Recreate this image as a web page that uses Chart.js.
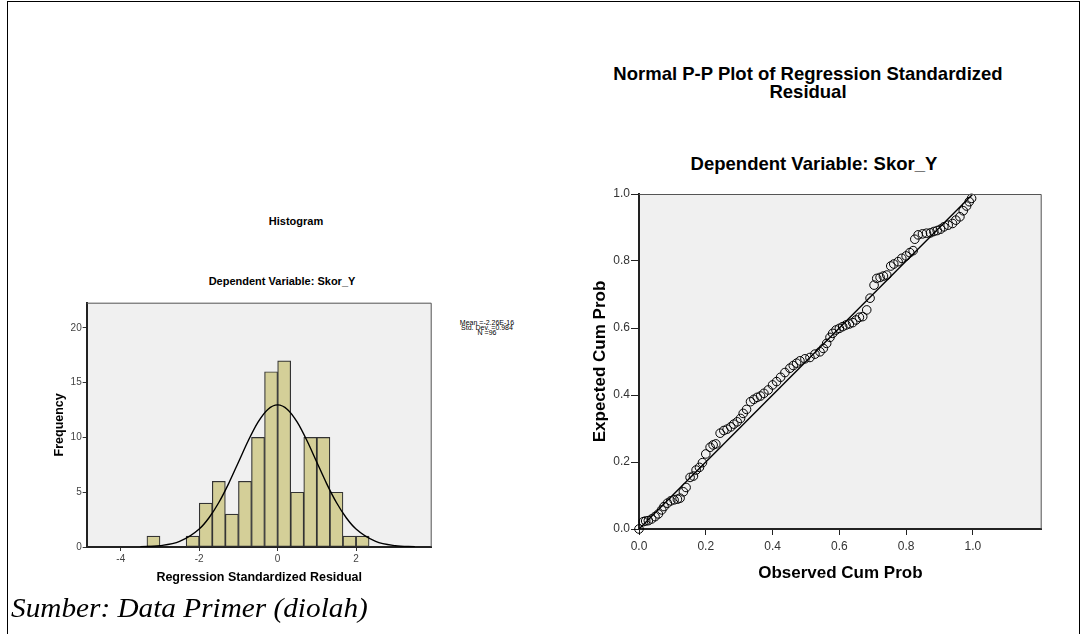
<!DOCTYPE html>
<html>
<head>
<meta charset="utf-8">
<script src="https://cdn.jsdelivr.net/npm/chart.js@4.4.0/dist/chart.umd.min.js"></script>
<style>
  body { margin: 0; background: #fff; width: 1081px; height: 634px; overflow: hidden; position: relative; font-family: "Liberation Sans", Arial, sans-serif; }
  .frame { position: absolute; left: 7px; top: 1px; width: 1071px; height: 640px; border: 1px solid #000; }
  .t { position: absolute; text-align: center; font-weight: bold; color: #000; white-space: nowrap; }
  canvas { position: absolute; }
  #caption { position: absolute; left: 11px; top: 594px; font-family: "Liberation Serif", "Times New Roman", serif; font-style: italic; font-size: 28px; line-height: 28px; color: #000; transform: scaleX(1.045); transform-origin: left top; white-space: nowrap; }
</style>
</head>
<body>
<div class="frame"></div>

<div class="t" style="left:196px; top:215px; width:200px; font-size:11px;">Histogram</div>
<div class="t" style="left:132px; top:275px; width:300px; font-size:11px;">Dependent Variable: Skor_Y</div>
<div class="t" style="left:437px; top:320px; width:100px; font-size:7px; line-height:5px; font-weight:normal;">Mean =-2.26E-16<br>Std. Dev. =0.984<br>N =96</div>

<div class="t" style="left:558px; top:65px; width:500px; font-size:18.5px; line-height:18.3px;">Normal P-P Plot of Regression Standardized<br>Residual</div>
<div class="t" style="left:564px; top:155px; width:500px; font-size:18.5px; line-height:18.3px;">Dependent Variable: Skor_Y</div>

<canvas id="hist" width="400" height="410" style="left:40px; top:190px;"></canvas>
<canvas id="pp" width="490" height="420" style="left:570px; top:180px;"></canvas>

<div id="caption">Sumber: Data Primer (diolah)</div>

<script>
// histogram bins (centre of each bin) and counts
const binCentres = [-3.167, -2.833, -2.5, -2.167, -1.833, -1.5, -1.167, -0.833, -0.5, -0.167, 0.167, 0.5, 0.833, 1.167, 1.5, 1.833, 2.167];
const binCounts  = [1, 0, 0, 1, 4, 6, 3, 6, 10, 16, 17, 5, 10, 10, 5, 1, 1];

// normal curve
const curveX = [-3.5, -3, -2.5, -2, -1.75, -1.5, -1.25, -1, -0.75, -0.5, -0.25, 0, 0.25, 0.5, 0.75, 1, 1.25, 1.5, 1.75, 2, 2.5, 3, 3.5];
const curveY = [0.02, 0.12, 0.51, 1.64, 2.67, 4.06, 5.79, 7.74, 9.7, 11.4, 12.56, 12.97, 12.56, 11.4, 9.7, 7.74, 5.79, 4.06, 2.67, 1.64, 0.51, 0.12, 0.02];

const histXTicks = [-4, -2, 0, 2];
const histYTicks = [0, 5, 10, 15, 20];

// P-P plot points
const observedCum = [0, 0.013, 0.020, 0.028, 0.038, 0.048, 0.058, 0.068, 0.075, 0.085, 0.095, 0.105, 0.115, 0.123, 0.133, 0.141,
  0.153, 0.163, 0.171, 0.181, 0.19, 0.2, 0.213, 0.222, 0.23, 0.243, 0.254, 0.264, 0.275, 0.284, 0.294, 0.304,
  0.312, 0.322, 0.334, 0.344, 0.354, 0.364, 0.374, 0.387, 0.4, 0.412, 0.424, 0.437, 0.452, 0.462, 0.472, 0.482,
  0.497, 0.512, 0.527, 0.542, 0.552, 0.562, 0.572, 0.58, 0.59, 0.6, 0.61, 0.62, 0.63, 0.64, 0.65, 0.66,
  0.67, 0.682, 0.692, 0.704, 0.712, 0.722, 0.732, 0.742, 0.754, 0.763, 0.776, 0.787, 0.8, 0.811, 0.821, 0.826,
  0.836, 0.849, 0.861, 0.873, 0.883, 0.893, 0.903, 0.913, 0.926, 0.939, 0.949, 0.961, 0.971, 0.981, 0.989, 0.996];
const expectedCum = [0, 0.022, 0.024, 0.025, 0.030, 0.037, 0.045, 0.057, 0.067, 0.077, 0.084, 0.087, 0.089, 0.092, 0.111, 0.124,
  0.154, 0.158, 0.176, 0.184, 0.198, 0.224, 0.244, 0.251, 0.254, 0.286, 0.294, 0.298, 0.305, 0.313, 0.32, 0.33,
  0.345, 0.357, 0.38, 0.387, 0.393, 0.397, 0.405, 0.415, 0.43, 0.44, 0.453, 0.467, 0.48, 0.488, 0.495, 0.502,
  0.508, 0.512, 0.522, 0.529, 0.539, 0.554, 0.572, 0.584, 0.594, 0.599, 0.604, 0.609, 0.612, 0.616, 0.624, 0.632,
  0.634, 0.654, 0.689, 0.728, 0.748, 0.751, 0.755, 0.758, 0.785, 0.791, 0.798, 0.808, 0.815, 0.825, 0.831, 0.865,
  0.878, 0.881, 0.883, 0.884, 0.888, 0.891, 0.895, 0.902, 0.907, 0.912, 0.922, 0.932, 0.95, 0.964, 0.977, 0.987];
const ppTicks = [0, 0.2, 0.4, 0.6, 0.8, 1.0];

const FONT = '"Liberation Sans", Arial, sans-serif';

// grey plot background + frame like SPSS
const plotFrame = {
  id: 'plotFrame',
  beforeDraw(chart) {
    const a = chart.chartArea, ctx = chart.ctx;
    ctx.save();
    ctx.fillStyle = '#f0f0f0';
    ctx.fillRect(a.left, a.top, a.right - a.left, a.bottom - a.top);
    ctx.restore();
  },
  afterDraw(chart) {
    const a = chart.chartArea, ctx = chart.ctx;
    ctx.save();
    ctx.strokeStyle = '#555';
    ctx.lineWidth = 1;
    ctx.beginPath();
    ctx.moveTo(a.left, a.top + 0.5);
    ctx.lineTo(a.right - 0.5, a.top + 0.5);
    ctx.lineTo(a.right - 0.5, a.bottom);
    ctx.stroke();
    ctx.restore();
  }
};

function fixedTicks(list) {
  return scale => { scale.ticks = list.map(v => ({ value: v })); };
}

new Chart(document.getElementById('hist'), {
  data: {
    datasets: [
      {
        type: 'line',
        data: curveX.map((x, i) => ({ x: x, y: curveY[i] })),
        borderColor: '#000',
        borderWidth: 1.4,
        pointRadius: 0,
        cubicInterpolationMode: 'monotone',
        order: 0
      },
      {
        type: 'bar',
        data: binCentres.map((x, i) => ({ x: x, y: binCounts[i] })),
        backgroundColor: '#d4cf98',
        borderColor: '#333',
        borderWidth: 1.2,
        borderSkipped: false,
        barPercentage: 1,
        categoryPercentage: 1,
        order: 1
      }
    ]
  },
  options: {
    responsive: false,
    animation: false,
    devicePixelRatio: 1,
    layout: { padding: { top: 112.7, right: 8.3, left: 0, bottom: 0 } },
    plugins: { legend: { display: false }, tooltip: { enabled: false } },
    scales: {
      x: {
        type: 'linear',
        offset: false,
        min: -4.87, max: 3.93,
        afterBuildTicks: fixedTicks(histXTicks),
        afterFit: s => { s.height = 53; },
        grid: { offset: false, drawOnChartArea: false, tickLength: 4, tickColor: '#333' },
        border: { color: '#222', width: 2 },
        ticks: { font: { family: FONT, size: 10 }, color: '#444', padding: 2 },
        title: { display: true, text: 'Regression Standardized Residual', font: { family: FONT, size: 12.5, weight: 'bold' }, color: '#000', padding: { top: 0, bottom: 14.5 } }
      },
      y: {
        min: 0, max: 22.3,
        afterBuildTicks: fixedTicks(histYTicks),
        afterFit: s => { s.width = 46.7; },
        grid: { drawOnChartArea: false, tickLength: 4, tickColor: '#333' },
        border: { color: '#222', width: 2 },
        ticks: { font: { family: FONT, size: 10 }, color: '#444', padding: 1 },
        title: { display: true, text: 'Frequency', font: { family: FONT, size: 12.5, weight: 'bold' }, color: '#000', padding: { top: 12.5, bottom: 0 } }
      }
    }
  },
  plugins: [plotFrame]
});

new Chart(document.getElementById('pp'), {
  data: {
    datasets: [
      {
        type: 'line',
        data: [{ x: 0, y: 0 }, { x: 1, y: 1 }],
        borderColor: '#000',
        borderWidth: 1.4,
        pointRadius: 0
      },
      {
        type: 'scatter',
        data: observedCum.map((x, i) => ({ x: x, y: expectedCum[i] })),
        pointRadius: 4.3,
        pointStyle: 'circle',
        borderColor: '#000',
        borderWidth: 1,
        backgroundColor: 'rgba(0,0,0,0)',
        clip: false
      }
    ]
  },
  options: {
    responsive: false,
    animation: false,
    devicePixelRatio: 1,
    layout: { padding: { top: 14, right: 18.3, left: 0, bottom: 0 } },
    plugins: { legend: { display: false }, tooltip: { enabled: false } },
    scales: {
      x: {
        type: 'linear',
        min: 0, max: 1.206,
        afterBuildTicks: fixedTicks(ppTicks),
        afterFit: s => { s.height = 71; },
        grid: { drawOnChartArea: false, tickLength: 6, tickColor: '#222' },
        border: { color: '#222', width: 2 },
        ticks: { font: { family: FONT, size: 12 }, color: '#333', padding: 4, callback: v => v.toFixed(1) },
        title: { display: true, text: 'Observed Cum Prob', font: { family: FONT, size: 17, weight: 'bold' }, color: '#000', padding: { top: 0, bottom: 16.8 } }
      },
      y: {
        type: 'linear',
        min: 0, max: 1,
        afterBuildTicks: fixedTicks(ppTicks),
        afterFit: s => { s.width = 69; },
        grid: { drawOnChartArea: false, tickLength: 8, tickColor: '#222' },
        border: { color: '#222', width: 2 },
        ticks: { font: { family: FONT, size: 12 }, color: '#333', padding: 1, callback: v => v.toFixed(1) },
        title: { display: true, text: 'Expected Cum Prob', font: { family: FONT, size: 17, weight: 'bold' }, color: '#000', padding: { top: 19.8, bottom: 0 } }
      }
    }
  },
  plugins: [plotFrame]
});
</script>
</body>
</html>
